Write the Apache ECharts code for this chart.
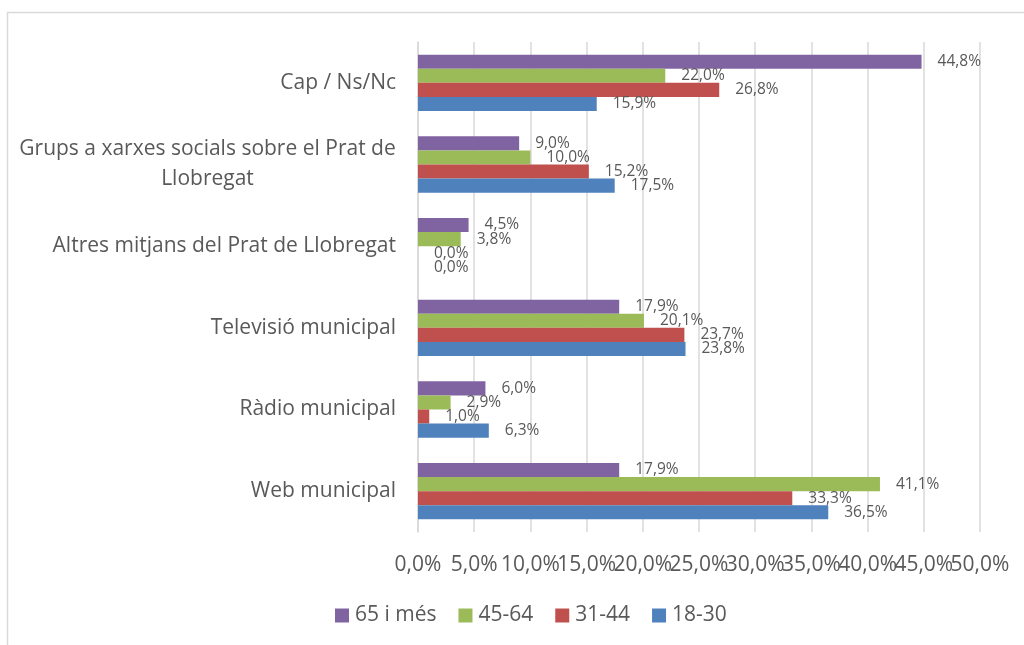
<!DOCTYPE html>
<html>
<head>
<meta charset="utf-8">
<script src="https://cdn.jsdelivr.net/npm/echarts@6/dist/echarts.min.js"></script>
<style>
  html, body { margin: 0; padding: 0; background: #fff; }
  #chart { width: 1024px; height: 645px; }
</style>
</head>
<body>
<div id="chart"></div>
<script>
// Categories, bottom to top
const categories = [
  'Web municipal',
  'Ràdio municipal',
  'Televisió municipal',
  'Altres mitjans del Prat de Llobregat',
  'Grups a xarxes socials sobre el Prat de\nLlobregat',
  'Cap / Ns/Nc'
];

// Percentages per age group (same category order)
const age18_30 = [36.5, 6.3, 23.8, 0.0, 17.5, 15.9];
const age31_44 = [33.3, 1.0, 23.7, 0.0, 15.2, 26.8];
const age45_64 = [41.1, 2.9, 20.1, 3.8, 10.0, 22.0];
const age65plus = [17.9, 6.0, 17.9, 4.5, 9.0, 44.8];

// Series listed top bar first within each group
const seriesNames = ['65 i més', '45-64', '31-44', '18-30'];
const seriesData = [age65plus, age45_64, age31_44, age18_30];
const colors = ['#8064A2', '#9BBB59', '#C0504D', '#4F81BD'];

// Value axis range (percent)
const axisMin = 0, axisMax = 50, axisStep = 5;

const FONT = 'Open Sans';
const TEXT = '#595959';
const BIG = 21;

const pct = v => Number(v).toFixed(1).replace('.', ',') + '%';
const isEvenStep = v => Math.round(v / axisStep) % 2 === 0;

// width of the first line of a wrapped category, so the second line can be centred under it
function textWidth(str, size) {
  const c = document.createElement('canvas').getContext('2d');
  c.font = size + 'px "' + FONT + '"';
  return Math.ceil(c.measureText(str).width);
}

const chart = echarts.init(document.getElementById('chart'));

// The tick labels are wide enough to touch each other, so they are split over two
// overlaid axes (alternate ticks each) to keep every one of them visible.
function valueAxis(showEven, main) {
  return {
    type: 'value',
    position: 'bottom',
    min: axisMin, max: axisMax, interval: axisStep,
    axisLine: { show: false },
    axisTick: { show: false },
    splitLine: { show: main, lineStyle: { color: '#D9D9D9', width: 1.5 } },
    axisLabel: {
      formatter: v => (isEvenStep(v) === showEven ? pct(v) : ''),
      showMinLabel: showEven, showMaxLabel: showEven,
      color: TEXT, fontFamily: FONT, fontSize: BIG, margin: 23
    }
  };
}

chart.setOption({
  animation: false,
  textStyle: { fontFamily: FONT },
  graphic: [{
    type: 'rect',
    shape: { x: 7.5, y: 12.5, width: 1100, height: 700 },
    style: { fill: 'none', stroke: '#D9D9D9', lineWidth: 1.5 },
    silent: true
  }],
  grid: { left: 418, right: 44, top: 42, bottom: 113, containLabel: false },
  xAxis: [valueAxis(true, true), valueAxis(false, false)],
  yAxis: {
    type: 'category',
    data: categories,
    axisLine: { show: true, lineStyle: { color: '#D9D9D9', width: 1.5 } },
    axisTick: { show: false },
    axisLabel: {
      color: TEXT, fontFamily: FONT, fontSize: BIG, margin: 22, lineHeight: 30,
      formatter: function (v) {
        const parts = v.split('\n');
        if (parts.length === 1) return v;
        return parts.map(p => '{c|' + p + '}').join('\n');
      },
      rich: {
        c: {
          width: textWidth('Grups a xarxes socials sobre el Prat de', BIG),
          align: 'center',
          color: TEXT, fontFamily: FONT, fontSize: BIG, lineHeight: 30
        }
      }
    }
  },
  legend: {
    data: seriesNames,
    top: 600,
    left: 330,
    itemWidth: 14, itemHeight: 14, itemGap: 22,
    icon: 'rect',
    textStyle: { color: TEXT, fontFamily: FONT, fontSize: BIG, padding: [0, 0, 0, 1] }
  },
  series: seriesNames.map((name, i) => ({
    name: name,
    type: 'bar',
    xAxisIndex: 0,
    data: seriesData[i],
    barGap: '0%',
    barCategoryGap: '31%',
    itemStyle: { color: colors[i] },
    label: {
      show: true,
      position: 'right',
      distance: 16,
      formatter: p => pct(p.value),
      color: TEXT, fontFamily: FONT, fontSize: 15.5
    }
  }))
});
</script>
</body>
</html>
